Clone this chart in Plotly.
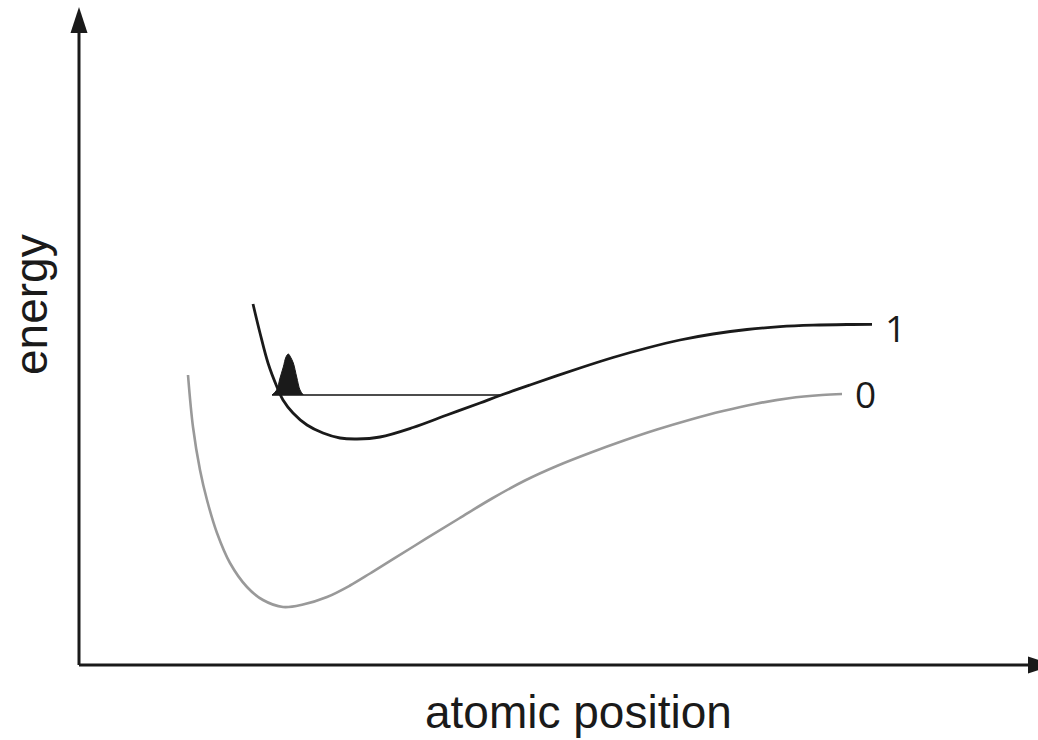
import plotly.graph_objects as go

# Potential-energy curves (arbitrary units: position, energy)
ground_x = [109, 114, 121, 128, 138, 151, 168, 184, 204, 224, 248, 271, 291, 314, 347,
            380, 413, 446, 479, 512, 545, 578, 611, 644, 677, 710, 743, 763]
ground_y = [290, 238, 195, 165, 132, 102, 78, 65, 58, 60.5, 68, 79.5, 91.5, 105.8, 126.3,
            146.5, 166.5, 184.5, 199.5, 212.5, 224.5, 235.5, 245.3, 254, 261.3, 266.8, 270, 271]

excited_x = [174, 181, 189, 198, 204, 214, 228, 244, 261, 278, 301, 334, 368, 401,
             421, 451, 501, 534, 568, 601, 634, 668, 701, 734, 768, 793]
excited_y = [361, 332, 302, 278, 265, 252, 240, 232, 227, 226, 228, 237.5, 250, 262,
             269.5, 280, 297, 307.5, 317, 325, 331, 335.5, 338.3, 339.8, 340.5, 340.7]

# Vibrational level on the excited curve
level_x = [193, 421]
level_y = [270, 270]

# Wavepacket
packet_x = [193, 197.7, 201, 204.3, 207, 209.3, 211.5, 214.3, 217.7, 221, 224.3]
packet_y = [270, 275, 287, 298, 308, 311, 308, 302, 288, 275, 270]

labels = ["1", "0"]
label_x = [816, 786]
label_y = [338, 272]

fig = go.Figure()

fig.add_trace(go.Scatter(x=ground_x, y=ground_y, mode="lines",
                         line=dict(color="#999999", width=2.6, shape="spline", smoothing=1.0),
                         hoverinfo="skip", showlegend=False))
fig.add_trace(go.Scatter(x=level_x, y=level_y, mode="lines",
                         line=dict(color="#111111", width=1.4),
                         hoverinfo="skip", showlegend=False))
fig.add_trace(go.Scatter(x=packet_x, y=packet_y, mode="lines", fill="toself",
                         fillcolor="#1a1a1a",
                         line=dict(color="#1a1a1a", width=1, shape="spline"),
                         hoverinfo="skip", showlegend=False))
fig.add_trace(go.Scatter(x=excited_x, y=excited_y, mode="lines",
                         line=dict(color="#1a1a1a", width=2.8, shape="spline", smoothing=1.0),
                         hoverinfo="skip", showlegend=False))

for t, lx, ly in zip(labels, label_x, label_y):
    fig.add_annotation(x=lx, y=ly, text=t, showarrow=False,
                       font=dict(family="Open Sans", size=37, color="#1a1a1a"),
                       xanchor="center", yanchor="middle")

# Axis lines with arrowheads
ax_col = "#1a1a1a"
fig.add_shape(type="line", x0=0, y0=0, x1=0, y1=634, line=dict(color=ax_col, width=3))
fig.add_shape(type="path", path="M -8.5 632 L 8.5 632 L 0 658 Z",
              fillcolor=ax_col, line=dict(color=ax_col, width=0))
fig.add_shape(type="line", x0=0, y0=0, x1=952, y1=0, line=dict(color=ax_col, width=3))
fig.add_shape(type="path", path="M 949 -8.5 L 949 8.5 L 975 0 Z",
              fillcolor=ax_col, line=dict(color=ax_col, width=0))

fig.add_annotation(x=499, y=-47, text="atomic position", showarrow=False,
                   font=dict(family="Liberation Sans", size=46, color="#1a1a1a"),
                   xanchor="center", yanchor="middle")
fig.add_annotation(x=-48, y=360, text="energy", showarrow=False, textangle=-90,
                   font=dict(family="Liberation Sans", size=46, color="#1a1a1a"),
                   xanchor="center", yanchor="middle")

fig.update_layout(
    width=1038, height=740,
    margin=dict(l=0, r=0, t=0, b=0),
    paper_bgcolor="white", plot_bgcolor="white",
    xaxis=dict(range=[-79, 959], visible=False, fixedrange=True),
    yaxis=dict(range=[-75, 665], visible=False, fixedrange=True),
)

fig.write_html("out.html", config={"displayModeBar": False},
               post_script="document.body.style.margin='0px';document.body.style.overflow='hidden';")
